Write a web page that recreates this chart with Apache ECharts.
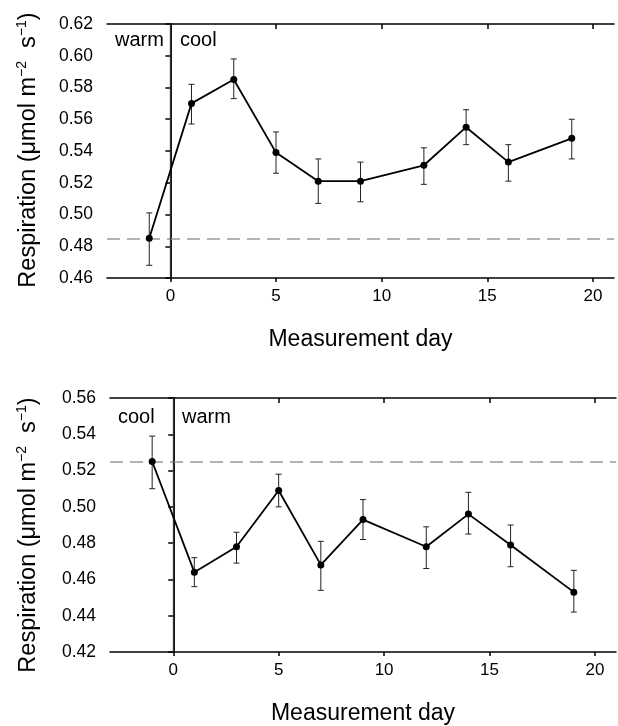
<!DOCTYPE html>
<html>
<head>
<meta charset="utf-8">
<script src="https://cdn.jsdelivr.net/npm/echarts@6/dist/echarts.min.js"></script>
<style>
  html, body { margin: 0; background: #fff; }
  #chart { width: 618px; height: 726px; }
</style>
</head>
<body>
<div id="chart"></div>
<script>
  const days = [-1, 1, 3, 5, 7, 9, 12, 14, 16, 19]
  const xTicks = [0, 5, 10, 15, 20]

  // upper panel: warm -> cool
  const topMean = [0.485, 0.570, 0.585, 0.539, 0.521, 0.521, 0.531, 0.555, 0.533, 0.548]
  const topLow = [0.468, 0.557, 0.573, 0.526, 0.507, 0.508, 0.519, 0.544, 0.521, 0.535]
  const topHigh = [0.501, 0.582, 0.598, 0.552, 0.535, 0.533, 0.542, 0.566, 0.544, 0.560]
  const topBase = 0.485

  // lower panel: cool -> warm
  const botMean = [0.525, 0.464, 0.478, 0.509, 0.468, 0.493, 0.478, 0.496, 0.479, 0.453]
  const botLow = [0.510, 0.456, 0.469, 0.500, 0.454, 0.482, 0.466, 0.485, 0.467, 0.442]
  const botHigh = [0.539, 0.472, 0.486, 0.518, 0.481, 0.504, 0.489, 0.508, 0.490, 0.465]
  const botBase = 0.525

  const font = 'Liberation Sans, Arial, sans-serif'
  const lineStyle = { color: '#000', width: 1.5 }

  function xAxes (grid) {
    return [{
      type: 'value', gridIndex: grid, min: -3, max: 21,
      name: 'Measurement day', nameLocation: 'middle', nameGap: 50,
      nameTextStyle: { fontFamily: font, fontSize: 23, color: '#000' },
      axisLine: { lineStyle },
      axisTick: { customValues: xTicks, length: 4, lineStyle },
      axisLabel: { customValues: xTicks, margin: 10, fontFamily: font, fontSize: 17, color: '#000' },
      splitLine: { show: false }
    }, {
      type: 'value', gridIndex: grid, min: -3, max: 21, position: 'top',
      axisLine: { lineStyle },
      axisTick: { customValues: xTicks, inside: true, length: 5, lineStyle },
      axisLabel: { show: false },
      splitLine: { show: false }
    }]
  }

  function yAxes (grid, min, max) {
    return [{
      type: 'value', gridIndex: grid, min: min, max: max, interval: 0.02,
      axisLine: { show: true, lineStyle },
      axisTick: { show: true, length: 4, lineStyle },
      axisLabel: { margin: 14, fontFamily: font, fontSize: 17.5, color: '#000', formatter: v => v.toFixed(2) },
      splitLine: { show: false }
    }, {
      type: 'value', gridIndex: grid, min: min, max: max, interval: 0.02, position: 'right',
      axisLine: { show: true, lineStyle },
      axisTick: { show: true, inside: true, length: 5, lineStyle },
      axisLabel: { show: false },
      splitLine: { show: false }
    }]
  }

  // error bars, plus the baseline (dashed) and the switch day (solid) lines
  function errorBars (xi, yi, low, high, base) {
    return {
      type: 'custom', xAxisIndex: xi, yAxisIndex: yi, z: 3,
      data: days.map((d, i) => [d, low[i], high[i]]),
      renderItem (params, api) {
        const a = api.coord([api.value(0), api.value(1)])
        const b = api.coord([api.value(0), api.value(2)])
        const st = { stroke: '#222', lineWidth: 1 }
        return {
          type: 'group',
          children: [
            { type: 'line', shape: { x1: a[0], y1: a[1], x2: b[0], y2: b[1] }, style: st },
            { type: 'line', shape: { x1: a[0] - 3, y1: a[1], x2: a[0] + 3, y2: a[1] }, style: st },
            { type: 'line', shape: { x1: b[0] - 3, y1: b[1], x2: b[0] + 3, y2: b[1] }, style: st }
          ]
        }
      },
      markLine: {
        silent: true, symbol: 'none', precision: 4, label: { show: false },
        data: [
          { yAxis: base, lineStyle: { color: '#999', width: 1.5, type: [13, 7] } },
          { xAxis: 0, lineStyle: { color: '#333', width: 1.3, type: 'solid' } }
        ]
      }
    }
  }

  function meanLine (xi, yi, mean) {
    return {
      type: 'line', xAxisIndex: xi, yAxisIndex: yi, z: 5,
      data: days.map((d, i) => [d, mean[i]]),
      symbol: 'circle', symbolSize: 7,
      itemStyle: { color: '#000' },
      lineStyle: { color: '#000', width: 1.8 }
    }
  }

  function yTitle (x, y) {
    return {
      type: 'text', x: x, y: y, rotation: Math.PI / 2,
      style: {
        text: '{a|Respiration (μmol m}{s|−2}{a|  s}{s|−1}{a|)}',
        align: 'center', verticalAlign: 'middle',
        rich: {
          a: { fontFamily: font, fontSize: 23.5, fill: '#000', lineHeight: 26, verticalAlign: 'bottom' },
          s: { fontFamily: font, fontSize: 14, fill: '#000', lineHeight: 26, verticalAlign: 'top' }
        }
      }
    }
  }

  function label (text, x, y) {
    return { type: 'text', x: x, y: y, style: { text: text, fontFamily: font, fontSize: 20, fill: '#000', verticalAlign: 'middle' } }
  }

  const chart = echarts.init(document.getElementById('chart'))
  chart.setOption({
    animation: false,
    grid: [
      { left: 107, top: 24, right: 4, height: 254 },
      { left: 110, top: 398, right: 2, height: 254 }
    ],
    xAxis: xAxes(0).concat(xAxes(1)),
    yAxis: yAxes(0, 0.46, 0.62).concat(yAxes(1, 0.42, 0.56)),
    series: [
      errorBars(0, 0, topLow, topHigh, topBase),
      meanLine(0, 0, topMean),
      errorBars(2, 2, botLow, botHigh, botBase),
      meanLine(2, 2, botMean)
    ],
    graphic: [
      yTitle(28, 150),
      yTitle(28, 535),
      label('warm', 115, 40),
      label('cool', 180, 40),
      label('cool', 118, 417),
      label('warm', 182, 417)
    ]
  })
</script>
</body>
</html>
